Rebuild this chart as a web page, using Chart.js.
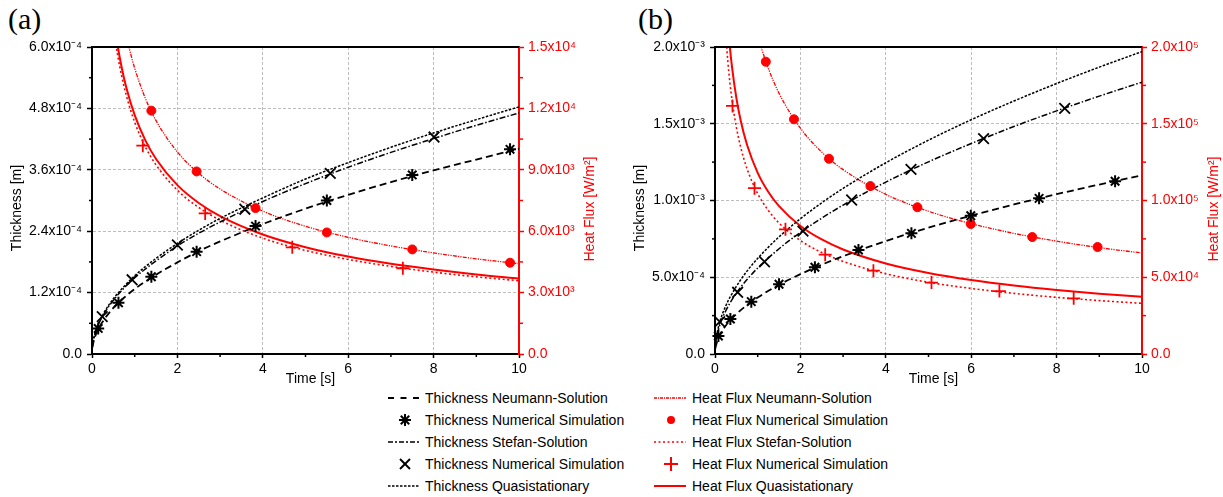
<!DOCTYPE html>
<html>
<head>
<meta charset="utf-8">
<script src="https://cdn.jsdelivr.net/npm/chart.js@4.4.1/dist/chart.umd.min.js"></script>
<style>
  html, body { margin: 0; padding: 0; background: #fff; }
  body { width: 1223px; height: 497px; overflow: hidden; position: relative;
         font-family: "Liberation Sans", Arial, Helvetica, sans-serif; }
  canvas { position: absolute; top: 0; }
  #ca { left: 0; }
  #cb { left: 611px; }
  .panel { position: absolute; top: 4px; font-family: "Liberation Serif", "Times New Roman", serif;
           font-size: 30px; line-height: 30px; color: #000; }
  .row { position: absolute; height: 16px; font-size: 14px; line-height: 16px; white-space: nowrap; color: #000; }
  .row svg { position: absolute; top: 0; }
  .row span { position: absolute; top: 0; }
</style>
</head>
<body>
<div class="panel" style="left:8px">(a)</div>
<div class="panel" style="left:638px">(b)</div>
<canvas id="ca" width="611" height="390"></canvas>
<canvas id="cb" width="612" height="390"></canvas>
<div id="legend"></div>
<script>
// ===================== DATA =====================
// Units: time in s, thickness in 1e-4 m, heat flux in 1e3 W/m^2

// ---- Panel (a) ----
const timeA          = [0.01, 0.02, 0.1, 0.25, 0.5, 0.75, 1, 1.5, 2, 2.5, 3, 4, 5, 6, 7, 8, 9, 10];
const thickNeumannA  = [0.13, 0.18, 0.40, 0.63, 0.90, 1.10, 1.27, 1.55, 1.79, 2.01, 2.20, 2.54, 2.84, 3.11, 3.36, 3.59, 3.80, 4.01];
const thickStefanA   = [0.15, 0.21, 0.47, 0.74, 1.05, 1.29, 1.49, 1.82, 2.11, 2.36, 2.58, 2.98, 3.33, 3.65, 3.94, 4.21, 4.47, 4.71];
const thickQuasiA    = [0.15, 0.22, 0.48, 0.76, 1.08, 1.32, 1.53, 1.87, 2.16, 2.42, 2.65, 3.05, 3.42, 3.74, 4.04, 4.32, 4.58, 4.83];

const simNeumannTimeA  = [0.145, 0.62, 1.39, 2.45, 3.83, 5.50, 7.50, 9.79];
const simNeumannThickA = [0.50, 1.00, 1.51, 2.00, 2.50, 3.00, 3.50, 4.00];
const simStefanTimeA   = [0.24, 0.94, 2.00, 3.58, 5.58, 8.01];
const simStefanThickA  = [0.73, 1.45, 2.13, 2.83, 3.53, 4.24];

const fluxNeumannTimeA = [0.8, 0.9, 1, 1.25, 1.5, 2, 2.5, 3, 4, 5, 6, 7, 8, 9, 10];
const fluxNeumannA     = [15.61, 14.71, 13.96, 12.49, 11.40, 9.87, 8.83, 8.06, 6.98, 6.24, 5.70, 5.28, 4.94, 4.65, 4.41];
const fluxTimeA        = [0.5, 0.6, 0.7, 0.8, 1, 1.25, 1.5, 2, 2.5, 3, 4, 5, 6, 7, 8, 9, 10];
const fluxQuasiA       = [16.50, 15.07, 13.95, 13.05, 11.67, 10.44, 9.53, 8.25, 7.38, 6.74, 5.84, 5.22, 4.76, 4.41, 4.13, 3.89, 3.69];
const fluxStefanA      = [16.01, 14.61, 13.53, 12.66, 11.32, 10.12, 9.24, 8.00, 7.16, 6.54, 5.66, 5.06, 4.62, 4.28, 4.00, 3.77, 3.58];

const simFluxNeumannTimeA = [1.39, 2.45, 3.83, 5.50, 7.50, 9.79];
const simFluxNeumannA     = [11.89, 8.92, 7.13, 5.94, 5.11, 4.46];
const simFluxStefanTimeA  = [1.19, 2.65, 4.69, 7.28];
const simFluxStefanA      = [10.18, 6.87, 5.21, 4.19];

// ---- Panel (b) ----
const timeB          = [0.01, 0.02, 0.1, 0.25, 0.5, 0.75, 1, 1.5, 2, 2.5, 3, 4, 5, 6, 7, 8, 9, 10];
const thickNeumannB  = [0.37, 0.52, 1.16, 1.84, 2.60, 3.19, 3.68, 4.51, 5.20, 5.82, 6.37, 7.36, 8.23, 9.01, 9.74, 10.41, 11.04, 11.64];
const thickStefanB   = [0.56, 0.79, 1.77, 2.80, 3.96, 4.85, 5.60, 6.86, 7.92, 8.85, 9.70, 11.20, 12.52, 13.71, 14.82, 15.84, 16.80, 17.71];
const thickQuasiB    = [0.62, 0.88, 1.97, 3.12, 4.40, 5.40, 6.23, 7.63, 8.81, 9.85, 10.79, 12.46, 13.93, 15.26, 16.48, 17.62, 18.69, 19.70];

const simNeumannTimeB  = [0.08, 0.36, 0.85, 1.50, 2.34, 3.36, 4.60, 5.99, 7.59, 9.37];
const simNeumannThickB = [1.17, 2.28, 3.41, 4.54, 5.65, 6.78, 7.86, 9.01, 10.14, 11.25];
const simStefanTimeB   = [0.11, 0.53, 1.16, 2.06, 3.20, 4.59, 6.29, 8.19];
const simStefanThickB  = [2.10, 4.02, 6.01, 8.01, 10.03, 12.03, 14.03, 16.00];

const fluxNeumannTimeB = [1, 1.1, 1.25, 1.5, 2, 2.5, 3, 4, 5, 6, 7, 8, 9, 10];
const fluxNeumannB     = [208.0, 198.3, 186.0, 169.8, 147.1, 131.5, 120.1, 104.0, 93.0, 84.9, 78.6, 73.5, 69.3, 65.8];
const fluxQuasiTimeB   = [0.3, 0.35, 0.4, 0.5, 0.6, 0.75, 1, 1.25, 1.5, 2, 2.5, 3, 4, 5, 6, 7, 8, 9, 10];
const fluxQuasiB       = [215.4, 199.5, 186.6, 166.9, 152.3, 136.3, 118.0, 105.5, 96.3, 83.4, 74.6, 68.1, 59.0, 52.8, 48.2, 44.6, 41.7, 39.3, 37.3];
const fluxStefanTimeB  = [0.25, 0.3, 0.35, 0.4, 0.5, 0.6, 0.75, 1, 1.25, 1.5, 2, 2.5, 3, 4, 5, 6, 7, 8, 9, 10];
const fluxStefanB      = [209.0, 190.8, 176.6, 165.2, 147.8, 134.9, 120.7, 104.5, 93.5, 85.3, 73.9, 66.1, 60.3, 52.3, 46.7, 42.7, 39.5, 36.9, 34.8, 33.0];

const simFluxNeumannTimeB = [1.19, 1.85, 2.67, 3.64, 4.74, 5.99, 7.43, 8.96];
const simFluxNeumannB     = [190.4, 152.9, 127.2, 109.4, 95.6, 84.7, 76.2, 69.7];
const simFluxStefanTimeB  = [0.41, 0.925, 1.65, 2.58, 3.71, 5.07, 6.66, 8.40];
const simFluxStefanB      = [161.6, 108.0, 81.2, 64.7, 54.3, 46.5, 41.0, 36.3];

// ---- Ticks ----
const timeTicks       = [0, 2, 4, 6, 8, 10];
const timeTickLabels  = ['0', '2', '4', '6', '8', '10'];
const timeMinor       = [1, 3, 5, 7, 9];

const thickTicksA      = [0, 1.2, 2.4, 3.6, 4.8, 6.0];
const thickTickLabelsA = ['0.0', '1.2x10⁻⁴', '2.4x10⁻⁴', '3.6x10⁻⁴', '4.8x10⁻⁴', '6.0x10⁻⁴'];
const thickMinorA      = [0.6, 1.8, 3.0, 4.2, 5.4];
const fluxTicksA       = [0, 3, 6, 9, 12, 15];
const fluxTickLabelsA  = ['0.0', '3.0x10³', '6.0x10³', '9.0x10³', '1.2x10⁴', '1.5x10⁴'];
const fluxMinorA       = [1.5, 4.5, 7.5, 10.5, 13.5];

const thickTicksB      = [0, 5, 10, 15, 20];
const thickTickLabelsB = ['0.0', '5.0x10⁻⁴', '1.0x10⁻³', '1.5x10⁻³', '2.0x10⁻³'];
const thickMinorB      = [2.5, 7.5, 12.5, 17.5];
const fluxTicksB       = [0, 50, 100, 150, 200];
const fluxTickLabelsB  = ['0.0', '5.0x10⁴', '1.0x10⁵', '1.5x10⁵', '2.0x10⁵'];
const fluxMinorB       = [25, 75, 125, 175];

const seriesNames = [
  'Thickness Neumann-Solution', 'Thickness Numerical Simulation', 'Thickness Stefan-Solution',
  'Thickness Numerical Simulation', 'Thickness Quasistationary',
  'Heat Flux Neumann-Solution', 'Heat Flux Numerical Simulation', 'Heat Flux Stefan-Solution',
  'Heat Flux Numerical Simulation', 'Heat Flux Quasistationary'
];

// ===================== RENDERING =====================
const FONT = '"Liberation Sans", Arial, Helvetica, sans-serif';
const RED = '#ff0000';
const GRID = '#bdbdbd';

function pts(ts, vs) { return ts.map((t, i) => ({ x: t, y: vs[i] })); }

function lineDs(label, data, axis, color, width, dash) {
  return { label, data, yAxisID: axis, borderColor: color, backgroundColor: color,
           borderWidth: width, borderDash: dash, pointRadius: 0, fill: false,
           cubicInterpolationMode: 'monotone', order: 2 };
}
function markDs(label, data, axis, color, style, radius, width) {
  return { label, data, yAxisID: axis, showLine: false, borderColor: color, backgroundColor: color,
           pointStyle: style, pointRadius: radius, pointBorderWidth: width,
           pointBorderColor: color, pointBackgroundColor: color, order: 1, clip: false };
}

const decor = {
  id: 'decor',
  afterDraw(chart, args, o) {
    const { ctx, chartArea: a, scales } = chart;
    const x = scales.x, y = scales.y, y2 = scales.y2;
    ctx.save();
    // top frame
    ctx.strokeStyle = '#000'; ctx.lineWidth = 2;
    ctx.beginPath(); ctx.moveTo(a.left - 1, a.top); ctx.lineTo(a.right, a.top); ctx.stroke();
    // minor ticks
    ctx.lineWidth = 1.5;
    o.xMinor.forEach(v => { const p = x.getPixelForValue(v);
      ctx.beginPath(); ctx.moveTo(p, a.bottom); ctx.lineTo(p, a.bottom + 3); ctx.stroke(); });
    o.yMinor.forEach(v => { const p = y.getPixelForValue(v);
      ctx.beginPath(); ctx.moveTo(a.left - 3, p); ctx.lineTo(a.left, p); ctx.stroke(); });
    ctx.strokeStyle = RED;
    o.y2Minor.forEach(v => { const p = y2.getPixelForValue(v);
      ctx.beginPath(); ctx.moveTo(a.right, p); ctx.lineTo(a.right + 4, p); ctx.stroke(); });
    // axis titles
    ctx.font = '14px ' + FONT; ctx.textAlign = 'center'; ctx.textBaseline = 'middle';
    ctx.fillStyle = '#000';
    ctx.fillText(o.xTitle, (a.left + a.right) / 2 + 5, 379);
    const rot = (txt, tx, ty, col) => {
      ctx.save(); ctx.translate(tx, ty); ctx.rotate(-Math.PI / 2);
      ctx.fillStyle = col; ctx.fillText(txt, 0, 0); ctx.restore();
    };
    rot(o.yTitle, o.yTitleX, 208, '#000');
    rot(o.y2Title, o.y2TitleX, 209, RED);
    ctx.restore();
  }
};

function makeChart(canvasId, p) {
  const tickFont = { family: FONT, size: 14 };
  const datasets = [
    lineDs(seriesNames[0], pts(p.time, p.thickNeumann), 'y', '#000', 1.8, [7, 4]),
    markDs(seriesNames[1], pts(p.simNT, p.simNV), 'y', '#000', 'star', 6, 2),
    lineDs(seriesNames[2], pts(p.time, p.thickStefan), 'y', '#000', 1.5, [6, 2, 1.5, 2]),
    markDs(seriesNames[3], pts(p.simST, p.simSV), 'y', '#000', 'crossRot', 7.5, 1.8),
    lineDs(seriesNames[4], pts(p.time, p.thickQuasi), 'y', '#000', 1.5, [2.5, 1.5]),
    lineDs(seriesNames[5], pts(p.fnT, p.fnV), 'y2', RED, 1.3, [4, 1.2, 1.2, 1.2, 1.2, 1.2]),
    markDs(seriesNames[6], pts(p.sfnT, p.sfnV), 'y2', RED, 'circle', 4.5, 1),
    lineDs(seriesNames[7], pts(p.fsT, p.fsV), 'y2', RED, 1.6, [2, 2.5]),
    markDs(seriesNames[8], pts(p.sfsT, p.sfsV), 'y2', RED, 'cross', 6.5, 1.8),
    lineDs(seriesNames[9], pts(p.fqT, p.fqV), 'y2', RED, 2, [])
  ];
  return new Chart(document.getElementById(canvasId), {
    type: 'line',
    data: { datasets },
    plugins: [decor],
    options: {
      responsive: false, animation: false, events: [],
      layout: { padding: { top: 47, left: 0, right: 0, bottom: 0 } },
      plugins: {
        legend: { display: false }, tooltip: { enabled: false },
        decor: { xMinor: timeMinor, yMinor: p.yMinor, y2Minor: p.y2Minor,
                 xTitle: 'Time [s]', yTitle: 'Thickness [m]', y2Title: 'Heat Flux [W/m²]',
                 yTitleX: p.yTitleX, y2TitleX: p.y2TitleX }
      },
      scales: {
        x: {
          type: 'linear', position: 'bottom', min: 0, max: 10,
          afterFit: s => { s.height = 36; },
          afterBuildTicks: s => { s.ticks = timeTicks.map(v => ({ value: v })); },
          ticks: { color: '#000', font: tickFont, padding: 3, autoSkip: false, maxRotation: 0,
                   callback: (v, i) => timeTickLabels[i] },
          grid: { color: c => (c.tick && (c.tick.value === 0 || c.tick.value === 10)) ? 'rgba(0,0,0,0)' : GRID,
                  lineWidth: 1, tickColor: '#000', tickLength: 4, tickWidth: 1.5 },
          border: { color: '#000', width: 2, dash: [3, 2] }
        },
        y: {
          type: 'linear', position: 'left', min: 0, max: p.yMax,
          afterFit: s => { s.width = p.yWidth; },
          afterBuildTicks: s => { s.ticks = p.yTicks.map(v => ({ value: v })); },
          ticks: { color: '#000', font: tickFont, padding: 5, autoSkip: false,
                   callback: (v, i) => p.yLabels[i] },
          grid: { color: c => (c.tick && (c.tick.value === 0 || c.tick.value === p.yMax)) ? 'rgba(0,0,0,0)' : GRID,
                  lineWidth: 1, tickColor: '#000', tickLength: 5, tickWidth: 1.5 },
          border: { color: '#000', width: 2, dash: [3, 2] }
        },
        y2: {
          type: 'linear', position: 'right', min: 0, max: p.y2Max,
          afterFit: s => { s.width = p.y2Width; },
          afterBuildTicks: s => { s.ticks = p.y2Ticks.map(v => ({ value: v })); },
          ticks: { color: RED, font: tickFont, padding: 4, autoSkip: false,
                   callback: (v, i) => p.y2Labels[i] },
          grid: { drawOnChartArea: false, color: RED, tickColor: RED, tickLength: 5, tickWidth: 1.5 },
          border: { color: RED, width: 2 }
        }
      }
    }
  });
}

makeChart('ca', {
  time: timeA, thickNeumann: thickNeumannA, thickStefan: thickStefanA, thickQuasi: thickQuasiA,
  simNT: simNeumannTimeA, simNV: simNeumannThickA, simST: simStefanTimeA, simSV: simStefanThickA,
  fnT: fluxNeumannTimeA, fnV: fluxNeumannA, sfnT: simFluxNeumannTimeA, sfnV: simFluxNeumannA,
  fsT: fluxTimeA, fsV: fluxStefanA, sfsT: simFluxStefanTimeA, sfsV: simFluxStefanA,
  fqT: fluxTimeA, fqV: fluxQuasiA,
  yMax: 6, yTicks: thickTicksA, yLabels: thickTickLabelsA, yMinor: thickMinorA,
  y2Max: 15, y2Ticks: fluxTicksA, y2Labels: fluxTickLabelsA, y2Minor: fluxMinorA,
  yWidth: 92, y2Width: 92, yTitleX: 17, y2TitleX: 590
});

makeChart('cb', {
  time: timeB, thickNeumann: thickNeumannB, thickStefan: thickStefanB, thickQuasi: thickQuasiB,
  simNT: simNeumannTimeB, simNV: simNeumannThickB, simST: simStefanTimeB, simSV: simStefanThickB,
  fnT: fluxNeumannTimeB, fnV: fluxNeumannB, sfnT: simFluxNeumannTimeB, sfnV: simFluxNeumannB,
  fsT: fluxStefanTimeB, fsV: fluxStefanB, sfsT: simFluxStefanTimeB, sfsV: simFluxStefanB,
  fqT: fluxQuasiTimeB, fqV: fluxQuasiB,
  yMax: 20, yTicks: thickTicksB, yLabels: thickTickLabelsB, yMinor: thickMinorB,
  y2Max: 200, y2Ticks: fluxTicksB, y2Labels: fluxTickLabelsB, y2Minor: fluxMinorB,
  yWidth: 104, y2Width: 81, yTitleX: 29, y2TitleX: 603
});

// ===================== LEGEND (HTML) =====================
const legendSamples = [
  '<line x1="0" y1="8" x2="31" y2="8" stroke="#000" stroke-width="1.8" stroke-dasharray="6,6.5"/>',
  '<g stroke="#000" stroke-width="2"><line x1="17" y1="2" x2="17" y2="14"/><line x1="11" y1="8" x2="23" y2="8"/><line x1="12.8" y1="3.8" x2="21.2" y2="12.2"/><line x1="21.2" y1="3.8" x2="12.8" y2="12.2"/></g>',
  '<line x1="0" y1="8" x2="31" y2="8" stroke="#000" stroke-width="1.6" stroke-dasharray="5,2,2,2"/>',
  '<g stroke="#000" stroke-width="2"><line x1="12" y1="3" x2="22" y2="13"/><line x1="22" y1="3" x2="12" y2="13"/></g>',
  '<line x1="0" y1="8" x2="31" y2="8" stroke="#000" stroke-width="1.6" stroke-dasharray="2.5,1.5"/>',
  '<line x1="0" y1="8" x2="32" y2="8" stroke="#ff0000" stroke-width="1.3" stroke-dasharray="3,1,1,1"/>',
  '<circle cx="17" cy="8" r="4" fill="#ff0000"/>',
  '<line x1="0" y1="8" x2="32" y2="8" stroke="#ff0000" stroke-width="1.6" stroke-dasharray="2,2.5"/>',
  '<g stroke="#ff0000" stroke-width="2"><line x1="17" y1="1" x2="17" y2="15"/><line x1="10" y1="8" x2="24" y2="8"/></g>',
  '<line x1="0" y1="8" x2="32" y2="8" stroke="#ff0000" stroke-width="2"/>'
];
const rowTops = [390, 412, 434, 456, 478];
let html = '';
seriesNames.forEach((name, i) => {
  const col = i < 5 ? 0 : 1;
  const r = i % 5;
  const sx = col === 0 ? 388 : 654;
  const tx = col === 0 ? 425 : 692;
  html += `<div class="row" style="left:0;top:${rowTops[r]}px;width:1223px">` +
          `<svg style="left:${sx}px" width="34" height="16">${legendSamples[i]}</svg>` +
          `<span style="left:${tx}px">${name}</span></div>`;
});
document.getElementById('legend').innerHTML = html;
</script>
</body>
</html>
